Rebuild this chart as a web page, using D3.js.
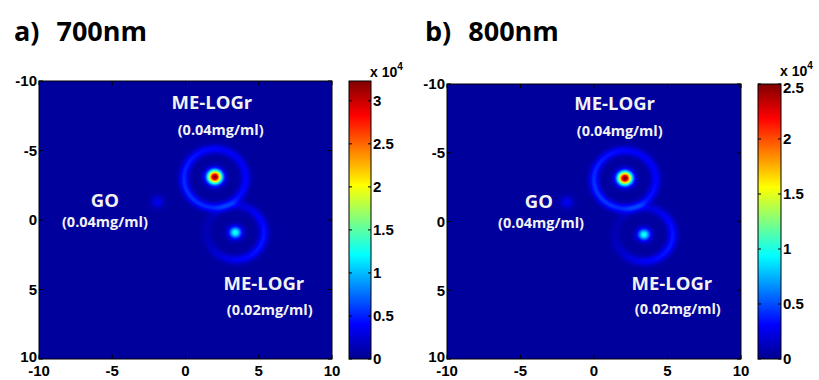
<!DOCTYPE html>
<html>
<head>
<meta charset="utf-8">
<script src="https://cdn.jsdelivr.net/npm/d3@7"></script>
<style>
  body { margin: 0; background: #fff; }
  svg text { font-family: "Liberation Sans", Arial, sans-serif; }
</style>
</head>
<body>
<svg id="chart" width="819" height="380"></svg>
<script>
// axis ticks (both image axes run from -10 to 10, y downwards)
const axisTicks = [-10, -5, 0, 5, 10];

// panel titles
const panelLetters = ["a)", "b)"];
const wavelengths = ["700nm", "800nm"];

// colour bar ranges (x 10^4)
const colorMax = [3.23, 2.5];
const colorTicks700 = [0, 0.5, 1, 1.5, 2, 2.5, 3];
const colorTicks800 = [0, 0.5, 1, 1.5, 2, 2.5];

// background level of each map (x 10^4)
const background = [0.05, 0.04];

// bright spots: centre, peak (x 10^4), spread
const spots700 = [
    { x: 2.0, y: -3.1, peak: 3.2, sigma: 0.34 },   // ME-LOGr 0.04
    { x: 3.4, y: 0.9, peak: 1.25, sigma: 0.3 },    // ME-LOGr 0.02
    { x: -1.9, y: -1.3, peak: 0.3, sigma: 0.3 },   // GO
];
const spots800 = [
    { x: 2.1, y: -3.15, peak: 2.5, sigma: 0.34 },
    { x: 3.4, y: 0.95, peak: 0.95, sigma: 0.3 },
    { x: -1.85, y: -1.4, peak: 0.25, sigma: 0.3 },
];

// faint rings around the two ME-LOGr spots (fade: how much dimmer the far side is)
const rings700 = [
    { x: 2.0, y: -3.0, radius: 2.1, amp: 0.5, width: 0.23, fade: 0.35, angle: 2.4 },
    { x: 3.4, y: 0.9, radius: 1.95, amp: 0.42, width: 0.23, fade: 0.8, angle: 0.4 },
];
const rings800 = [
    { x: 2.1, y: -3.05, radius: 2.1, amp: 0.4, width: 0.23, fade: 0.35, angle: 2.4 },
    { x: 3.4, y: 0.95, radius: 1.95, amp: 0.33, width: 0.23, fade: 0.8, angle: 0.4 },
];

// annotations (data coordinates of text anchor)
const labels700 = [
    { text: "ME-LOGr", kind: "name", x: 1.8, y: -8.0 },
    { text: "(0.04mg/ml)", kind: "conc", x: 2.4, y: -6.1 },
    { text: "GO", kind: "name", x: -5.5, y: -0.95 },
    { text: "(0.04mg/ml)", kind: "conc", x: -5.5, y: 0.5 },
    { text: "ME-LOGr", kind: "name", x: 5.35, y: 5.0 },
    { text: "(0.02mg/ml)", kind: "conc", x: 5.75, y: 6.8 },
];
const labels800 = [
    { text: "ME-LOGr", kind: "name", x: 1.4, y: -8.1 },
    { text: "(0.04mg/ml)", kind: "conc", x: 1.75, y: -6.2 },
    { text: "GO", kind: "name", x: -3.75, y: -1.0 },
    { text: "(0.04mg/ml)", kind: "conc", x: -3.6, y: 0.5 },
    { text: "ME-LOGr", kind: "name", x: 5.3, y: 4.95 },
    { text: "(0.02mg/ml)", kind: "conc", x: 5.7, y: 6.7 },
];

const panels = [
    { spots: spots700, rings: rings700, labels: labels700, ticks: colorTicks700,
      plot: { x0: 39, x1: 332, y0: 81, y1: 359 }, bar: { x0: 349, x1: 371 }, titleX: 14 },
    { spots: spots800, rings: rings800, labels: labels800, ticks: colorTicks800,
      plot: { x0: 447, x1: 741, y0: 84, y1: 359 }, bar: { x0: 758, x1: 781 }, titleX: 425 },
];

const svg = d3.select("#chart");
const defs = svg.append("defs");

// MATLAB "jet" colour map
function jet(max) {
    return d3.scaleLinear()
        .domain([0, 1 / 8, 3 / 8, 5 / 8, 7 / 8, 1].map(t => t * max))
        .range(["#00008f", "#0000ff", "#00ffff", "#ffff00", "#ff0000", "#800000"])
        .clamp(true);
}

function fieldValue(p, bg, x, y) {
    let v = bg;
    p.spots.forEach(s => {
        v += s.peak * Math.exp(-((x - s.x) ** 2 + (y - s.y) ** 2) / (2 * s.sigma ** 2));
    });
    p.rings.forEach(r => {
        const d = Math.hypot(x - r.x, y - r.y);
        const th = Math.atan2(y - r.y, x - r.x);
        const mod = 1 - r.fade * (1 - Math.cos(th - r.angle)) / 2;
        v += r.amp * mod * Math.exp(-((d - r.radius) ** 2) / (2 * r.width ** 2));
    });
    return v;
}

panels.forEach((p, i) => {
    const color = jet(colorMax[i]);
    const x = d3.scaleLinear().domain([-10, 10]).range([p.plot.x0, p.plot.x1]);
    const y = d3.scaleLinear().domain([-10, 10]).range([p.plot.y0, p.plot.y1]);

    // render field to a canvas, one cell per screen pixel
    const w = Math.round(p.plot.x1 - p.plot.x0), h = Math.round(p.plot.y1 - p.plot.y0);
    const canvas = document.createElement("canvas");
    canvas.width = w; canvas.height = h;
    const ctx = canvas.getContext("2d");
    const img = ctx.createImageData(w, h);
    for (let j = 0; j < h; j++) {
        const dy = y.invert(p.plot.y0 + j + 0.5);
        for (let k = 0; k < w; k++) {
            const dx = x.invert(p.plot.x0 + k + 0.5);
            const c = d3.rgb(color(fieldValue(p, background[i], dx, dy)));
            const o = (j * w + k) * 4;
            img.data[o] = c.r; img.data[o + 1] = c.g; img.data[o + 2] = c.b; img.data[o + 3] = 255;
        }
    }
    ctx.putImageData(img, 0, 0);

    const g = svg.append("g");
    g.append("image")
        .attr("x", p.plot.x0).attr("y", p.plot.y0)
        .attr("width", w).attr("height", h)
        .attr("preserveAspectRatio", "none")
        .attr("href", canvas.toDataURL());

    // inward ticks on all four sides
    const tickLen = 4;
    const tk = g.append("g").attr("stroke", "#000").attr("stroke-width", 1);
    axisTicks.forEach(t => {
        tk.append("line").attr("x1", x(t)).attr("x2", x(t)).attr("y1", p.plot.y1).attr("y2", p.plot.y1 - tickLen);
        tk.append("line").attr("x1", x(t)).attr("x2", x(t)).attr("y1", p.plot.y0).attr("y2", p.plot.y0 + tickLen);
        tk.append("line").attr("y1", y(t)).attr("y2", y(t)).attr("x1", p.plot.x0).attr("x2", p.plot.x0 + tickLen);
        tk.append("line").attr("y1", y(t)).attr("y2", y(t)).attr("x1", p.plot.x1).attr("x2", p.plot.x1 - tickLen);
    });
    g.append("rect")
        .attr("x", p.plot.x0).attr("y", p.plot.y0)
        .attr("width", w).attr("height", h)
        .attr("fill", "none").attr("stroke", "#000");

    // tick labels
    g.selectAll("text.xt").data(axisTicks).enter().append("text")
        .attr("x", d => x(d)).attr("y", p.plot.y1 + 17)
        .attr("text-anchor", "middle")
        .style("font-size", "15px").style("font-weight", "bold")
        .text(d => d);
    g.selectAll("text.yt").data(axisTicks).enter().append("text")
        .attr("x", p.plot.x0 - 2).attr("y", d => y(d))
        .attr("dy", d => d === 10 ? "0.2em" : "0.36em")
        .attr("text-anchor", "end")
        .style("font-size", "15px").style("font-weight", "bold")
        .text(d => d);

    // annotations
    g.selectAll("text.lab").data(p.labels).enter().append("text")
        .attr("x", d => x(d.x)).attr("y", d => y(d.y))
        .attr("text-anchor", "middle")
        .attr("fill", "#f2f2f2")
        .style("font-family", "'Open Sans', sans-serif")
        .style("font-weight", "bold")
        .style("font-size", d => d.kind === "name" ? "18.5px" : "14.5px")
        .text(d => d.text);

    // title
    const title = svg.append("text")
        .attr("x", p.titleX).attr("y", 41)
        .style("font-family", "'Open Sans', sans-serif")
        .style("font-weight", "bold").style("font-size", "27px");
    title.append("tspan").text(panelLetters[i]);
    title.append("tspan").attr("dx", 17).text(wavelengths[i]);

    // colour bar
    const cy = d3.scaleLinear().domain([0, colorMax[i]]).range([p.plot.y1, p.plot.y0]);
    const gradId = "grad" + i;
    const grad = defs.append("linearGradient").attr("id", gradId)
        .attr("x1", 0).attr("y1", 1).attr("x2", 0).attr("y2", 0);
    d3.range(0, 1.0001, 1 / 40).forEach(t => {
        grad.append("stop").attr("offset", t).attr("stop-color", color(t * colorMax[i]));
    });
    const cb = svg.append("g");
    cb.append("rect")
        .attr("x", p.bar.x0).attr("y", p.plot.y0)
        .attr("width", p.bar.x1 - p.bar.x0).attr("height", p.plot.y1 - p.plot.y0)
        .attr("fill", `url(#${gradId})`).attr("stroke", "#000");
    p.ticks.forEach(t => {
        cb.append("line").attr("x1", p.bar.x0).attr("x2", p.bar.x0 + 3)
            .attr("y1", cy(t)).attr("y2", cy(t)).attr("stroke", "#000");
        cb.append("line").attr("x1", p.bar.x1).attr("x2", p.bar.x1 - 3)
            .attr("y1", cy(t)).attr("y2", cy(t)).attr("stroke", "#000");
    });
    const topTick = p.ticks.includes(colorMax[i]);
    cb.selectAll("text.ct").data(p.ticks).enter().append("text")
        .attr("x", p.bar.x1 + 2).attr("y", d => cy(d))
        .attr("dy", d => d === colorMax[i] ? "0.6em" : "0.36em")
        .style("font-size", "15px").style("font-weight", "bold")
        .text(d => d);
    const mult = cb.append("text")
        .attr("x", p.bar.x1 - 1).attr("y", p.plot.y0 - (topTick ? 8 : 4))
        .style("font-size", "14px").style("font-weight", "bold");
    mult.append("tspan").text("x 10");
    mult.append("tspan").attr("dy", -7).style("font-size", "10px").text("4");
});
</script>
</body>
</html>
